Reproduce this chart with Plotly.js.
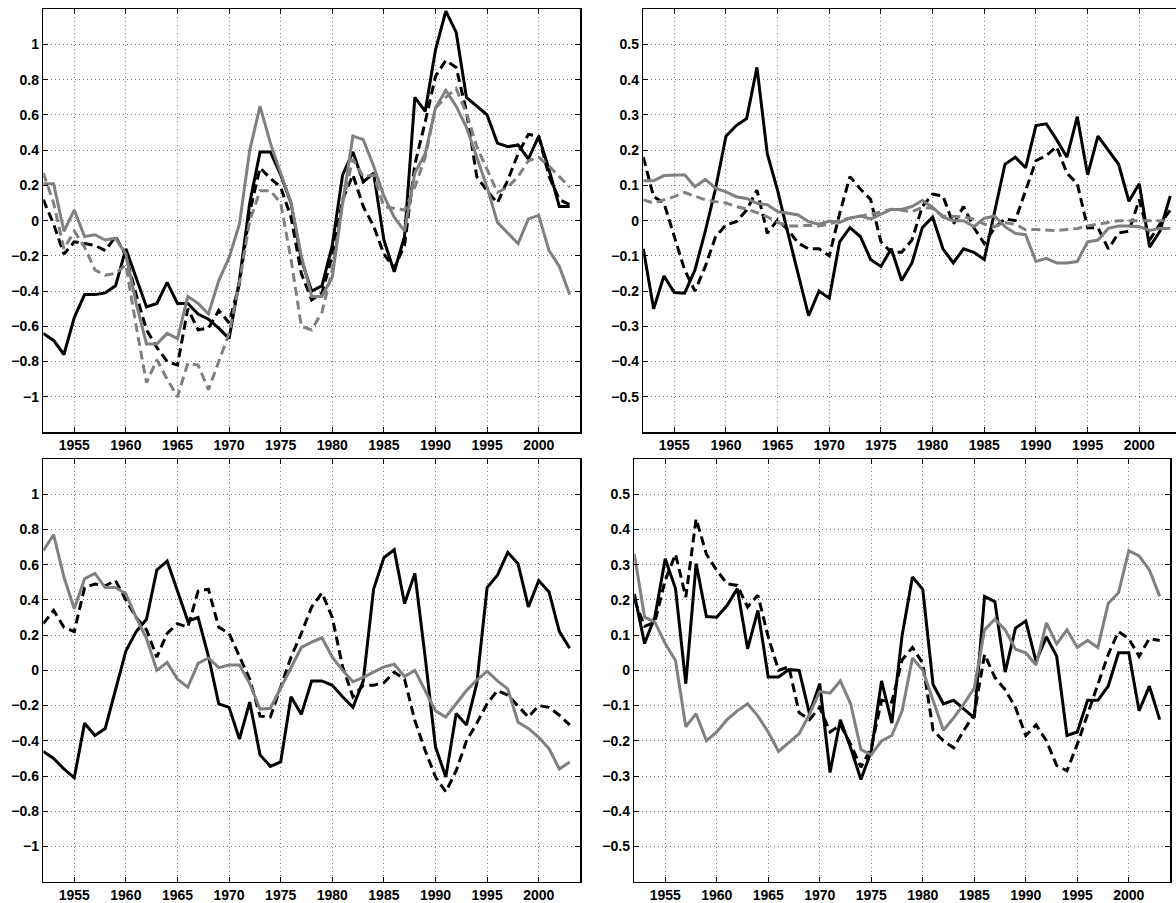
<!DOCTYPE html>
<html>
<head>
<meta charset="utf-8">
<script src="https://cdn.plot.ly/plotly-3.0.1.min.js"></script>
<style>
html, body { margin: 0; padding: 0; overflow: hidden; background: #fff; }
#chart { width: 1184px; height: 903px; }
</style>
</head>
<body>
<div id="chart"></div>
<script>
// ---------- data ----------
const years = [1952,1953,1954,1955,1956,1957,1958,1959,1960,1961,1962,1963,1964,1965,1966,1967,1968,1969,1970,1971,1972,1973,1974,1975,1976,1977,1978,1979,1980,1981,1982,1983,1984,1985,1986,1987,1988,1989,1990,1991,1992,1993,1994,1995,1996,1997,1998,1999,2000,2001,2002,2003];

// top-left panel
const tlBlack = [-0.64,-0.68,-0.76,-0.55,-0.42,-0.42,-0.41,-0.37,-0.16,-0.32,-0.49,-0.47,-0.35,-0.47,-0.47,-0.53,-0.56,-0.61,-0.67,-0.34,0.10,0.39,0.39,0.26,0.10,-0.22,-0.40,-0.37,-0.14,0.26,0.39,0.22,0.27,-0.11,-0.29,-0.09,0.70,0.62,0.97,1.19,1.07,0.70,0.65,0.60,0.44,0.42,0.43,0.35,0.48,0.29,0.08,0.08];
const tlBlackDash = [0.12,-0.02,-0.19,-0.12,-0.13,-0.14,-0.17,-0.09,-0.20,-0.42,-0.62,-0.72,-0.80,-0.82,-0.50,-0.62,-0.61,-0.51,-0.58,-0.36,0.05,0.30,0.24,0.19,0.02,-0.30,-0.45,-0.41,-0.20,0.12,0.26,0.08,-0.03,-0.19,-0.27,-0.14,0.32,0.56,0.82,0.91,0.87,0.62,0.25,0.17,0.10,0.23,0.38,0.49,0.48,0.25,0.12,0.09];
const tlGray = [0.21,0.21,-0.06,0.06,-0.09,-0.08,-0.11,-0.10,-0.19,-0.47,-0.70,-0.70,-0.64,-0.67,-0.43,-0.47,-0.53,-0.34,-0.21,-0.02,0.40,0.65,0.44,0.27,0.10,-0.20,-0.43,-0.43,-0.32,0.10,0.48,0.46,0.31,0.14,0.02,-0.06,0.27,0.38,0.64,0.74,0.65,0.53,0.36,0.19,-0.01,-0.07,-0.13,0.01,0.03,-0.17,-0.26,-0.42];
const tlGrayDash = [0.27,0.10,-0.16,-0.06,-0.15,-0.28,-0.31,-0.30,-0.25,-0.60,-0.92,-0.79,-0.90,-1.00,-0.81,-0.82,-0.96,-0.80,-0.64,-0.35,0.00,0.17,0.17,0.10,-0.22,-0.60,-0.62,-0.52,-0.28,0.10,0.35,0.25,0.26,0.08,0.07,0.06,0.19,0.36,0.64,0.70,0.75,0.61,0.42,0.29,0.16,0.19,0.25,0.34,0.36,0.31,0.25,0.19];

// top-right panel
const trBlack = [-0.08,-0.25,-0.157,-0.204,-0.206,-0.14,-0.03,0.092,0.24,0.27,0.29,0.435,0.19,0.085,-0.036,-0.15,-0.27,-0.20,-0.22,-0.06,-0.02,-0.045,-0.11,-0.13,-0.08,-0.17,-0.12,-0.02,0.01,-0.08,-0.12,-0.08,-0.09,-0.11,0.03,0.16,0.18,0.15,0.27,0.275,0.23,0.18,0.295,0.13,0.24,0.20,0.16,0.055,0.105,-0.075,-0.03,0.07];
const trBlackDash = [0.18,0.068,0.05,-0.045,-0.14,-0.20,-0.13,-0.045,-0.012,-0.003,0.03,0.087,-0.036,0.002,-0.026,-0.064,-0.08,-0.08,-0.10,0.02,0.125,0.09,0.06,-0.06,-0.09,-0.09,-0.055,0.04,0.075,0.07,-0.01,0.04,-0.02,-0.065,-0.02,0.005,0.00,0.085,0.17,0.185,0.21,0.135,0.105,-0.02,-0.02,-0.08,-0.035,-0.03,0.06,-0.055,-0.01,0.03];
const trGray = [0.113,0.113,0.128,0.128,0.13,0.096,0.117,0.092,0.082,0.068,0.063,0.049,0.045,0.026,0.021,0.016,-0.003,-0.01,-0.001,-0.005,0.007,0.013,0.005,0.018,0.032,0.032,0.04,0.057,0.038,0.01,0.0,0.0,-0.017,0.007,0.013,-0.017,-0.036,-0.04,-0.116,-0.107,-0.12,-0.12,-0.116,-0.06,-0.055,-0.022,-0.015,-0.015,-0.017,-0.028,-0.022,-0.022];
const trGrayDash = [0.059,0.05,0.059,0.068,0.08,0.07,0.059,0.054,0.05,0.04,0.033,0.023,0.011,-0.005,-0.015,-0.015,-0.013,-0.015,-0.01,0.002,0.007,0.013,0.018,0.025,0.032,0.03,0.025,0.038,0.035,0.013,0.013,0.011,0.004,-0.01,-0.017,-0.006,-0.01,-0.026,-0.025,-0.026,-0.028,-0.025,-0.022,-0.015,-0.01,-0.003,0.0,0.0,0.0,-0.002,-0.001,0.0];

// bottom-left panel
const blBlack = [-0.46,-0.50,-0.56,-0.61,-0.30,-0.37,-0.33,-0.11,0.11,0.22,0.29,0.57,0.62,0.45,0.28,0.30,0.08,-0.19,-0.21,-0.39,-0.18,-0.48,-0.545,-0.52,-0.15,-0.25,-0.06,-0.06,-0.085,-0.15,-0.21,-0.06,0.46,0.64,0.685,0.38,0.55,0.075,-0.435,-0.605,-0.245,-0.31,-0.075,0.47,0.54,0.67,0.605,0.36,0.51,0.445,0.22,0.125];
const blBlackDash = [0.265,0.34,0.245,0.22,0.47,0.49,0.48,0.51,0.40,0.30,0.23,0.075,0.21,0.265,0.245,0.45,0.46,0.245,0.21,0.075,-0.05,-0.26,-0.265,-0.095,0.075,0.21,0.36,0.44,0.30,0.02,-0.15,-0.085,-0.085,-0.07,-0.01,-0.05,-0.285,-0.455,-0.605,-0.69,-0.57,-0.40,-0.30,-0.19,-0.115,-0.14,-0.20,-0.265,-0.20,-0.21,-0.255,-0.31];
const blGray = [0.68,0.77,0.53,0.35,0.52,0.55,0.47,0.47,0.435,0.30,0.18,0.00,0.045,-0.05,-0.095,0.04,0.07,0.015,0.03,0.03,-0.075,-0.22,-0.215,-0.10,0.01,0.13,0.16,0.185,0.075,0.00,-0.065,-0.04,-0.01,0.02,0.035,-0.035,0.00,-0.115,-0.23,-0.265,-0.19,-0.115,-0.055,-0.005,-0.06,-0.105,-0.295,-0.33,-0.38,-0.445,-0.56,-0.52];

// bottom-right panel
const brBlack = [0.217,0.076,0.152,0.317,0.232,-0.038,0.303,0.153,0.151,0.184,0.232,0.061,0.17,-0.019,-0.019,0.002,0.0,-0.123,-0.038,-0.29,-0.14,-0.22,-0.31,-0.23,-0.03,-0.15,0.10,0.265,0.23,-0.04,-0.095,-0.085,-0.11,-0.135,0.21,0.195,-0.005,0.12,0.14,0.025,0.095,0.04,-0.185,-0.175,-0.085,-0.085,-0.045,0.05,0.05,-0.115,-0.045,-0.14];
const brBlackDash = [0.20,0.125,0.137,0.256,0.33,0.208,0.43,0.33,0.284,0.246,0.241,0.18,0.213,0.095,0.0,0.01,-0.12,-0.14,-0.105,-0.175,-0.155,-0.21,-0.275,-0.22,-0.085,-0.09,0.03,0.065,0.02,-0.17,-0.20,-0.22,-0.17,-0.125,0.045,-0.02,-0.055,-0.105,-0.185,-0.155,-0.20,-0.27,-0.285,-0.21,-0.125,-0.04,0.045,0.11,0.09,0.04,0.09,0.085];
const brGray = [0.33,0.151,0.137,0.076,0.028,-0.16,-0.123,-0.20,-0.175,-0.14,-0.115,-0.095,-0.13,-0.175,-0.23,-0.205,-0.18,-0.125,-0.06,-0.065,-0.03,-0.095,-0.225,-0.24,-0.20,-0.185,-0.115,0.035,0.0,-0.085,-0.17,-0.135,-0.095,-0.05,0.115,0.145,0.115,0.06,0.05,0.015,0.135,0.075,0.115,0.065,0.085,0.065,0.19,0.22,0.34,0.325,0.285,0.21];

// tick labels
const xTickVals = [1955,1960,1965,1970,1975,1980,1985,1990,1995,2000];
const xTickText = ['1955','1960','1965','1970','1975','1980','1985','1990','1995','2000'];
const yTickValsL = [-1,-0.8,-0.6,-0.4,-0.2,0,0.2,0.4,0.6,0.8,1];
const yTickTextL = ['\u22121','\u22120.8','\u22120.6','\u22120.4','\u22120.2','0','0.2','0.4','0.6','0.8','1'];
const yTickValsR = [-0.5,-0.4,-0.3,-0.2,-0.1,0,0.1,0.2,0.3,0.4,0.5];
const yTickTextR = ['\u22120.5','\u22120.4','\u22120.3','\u22120.2','\u22120.1','0','0.1','0.2','0.3','0.4','0.5'];

// ---------- styles ----------
const GRAY = '#808080';
const DASH = '9px,5px';
function tr(y, xa, ya, color, dash) {
  return {x: years, y: y, xaxis: xa, yaxis: ya, type: 'scatter', mode: 'lines',
          line: {color: color, width: 3, dash: dash || 'solid'}, hoverinfo: 'skip', showlegend: false};
}
const traces = [
  tr(tlBlack, 'x', 'y', 'black'), tr(tlBlackDash, 'x', 'y', 'black', DASH),
  tr(tlGray, 'x', 'y', GRAY), tr(tlGrayDash, 'x', 'y', GRAY, DASH),
  tr(trBlack, 'x2', 'y2', 'black'), tr(trBlackDash, 'x2', 'y2', 'black', DASH),
  tr(trGray, 'x2', 'y2', GRAY), tr(trGrayDash, 'x2', 'y2', GRAY, DASH),
  tr(blBlack, 'x3', 'y3', 'black'), tr(blBlackDash, 'x3', 'y3', 'black', DASH),
  tr(blGray, 'x3', 'y3', GRAY),
  tr(brBlack, 'x4', 'y4', 'black'), tr(brBlackDash, 'x4', 'y4', 'black', DASH),
  tr(brGray, 'x4', 'y4', GRAY)
];

const W = 1184, H = 903;
const tickFont = {family: 'Liberation Sans, Arial, Helvetica, sans-serif', size: 14, color: 'black', weight: 'bold'};
function axBase(extra) {
  return Object.assign({
    showgrid: true, gridcolor: '#7a7a7a', gridwidth: 1, griddash: '1px,3px',
    zeroline: false, showline: true, linecolor: 'black', linewidth: 1.5, mirror: 'ticks',
    ticks: 'inside', ticklen: 5, tickwidth: 1, tickcolor: 'black',
    tickfont: tickFont, tickmode: 'array', fixedrange: true
  }, extra);
}
function xa(l, r, anchor) {
  return axBase({domain: [l / W, r / W], range: [1952, 2004], anchor: anchor,
                 tickvals: xTickVals, ticktext: xTickText});
}
function ya(top, bot, anchor, rng, vals, text) {
  return axBase({domain: [1 - bot / H, 1 - top / H], range: rng, anchor: anchor,
                 tickvals: vals, ticktext: text});
}

const layout = {
  width: W, height: H,
  margin: {l: 0, r: 0, t: 0, b: 0},
  paper_bgcolor: 'white', plot_bgcolor: 'white',
  showlegend: false,
  xaxis:  xa(43.3, 580, 'y'),
  yaxis:  ya(9.3, 432, 'x', [-1.2, 1.2], yTickValsL, yTickTextL),
  xaxis2: xa(643.3, 1180.6, 'y2'),
  yaxis2: ya(9.3, 432, 'x2', [-0.6, 0.6], yTickValsR, yTickTextR),
  xaxis3: xa(43.3, 580, 'y3'),
  yaxis3: ya(459, 881.7, 'x3', [-1.2, 1.2], yTickValsL, yTickTextL),
  xaxis4: xa(634.3, 1170, 'y4'),
  yaxis4: ya(459, 881.7, 'x4', [-0.6, 0.6], yTickValsR, yTickTextR)
};

Plotly.newPlot('chart', traces, layout, {displayModeBar: false, staticPlot: true});
</script>
</body>
</html>
